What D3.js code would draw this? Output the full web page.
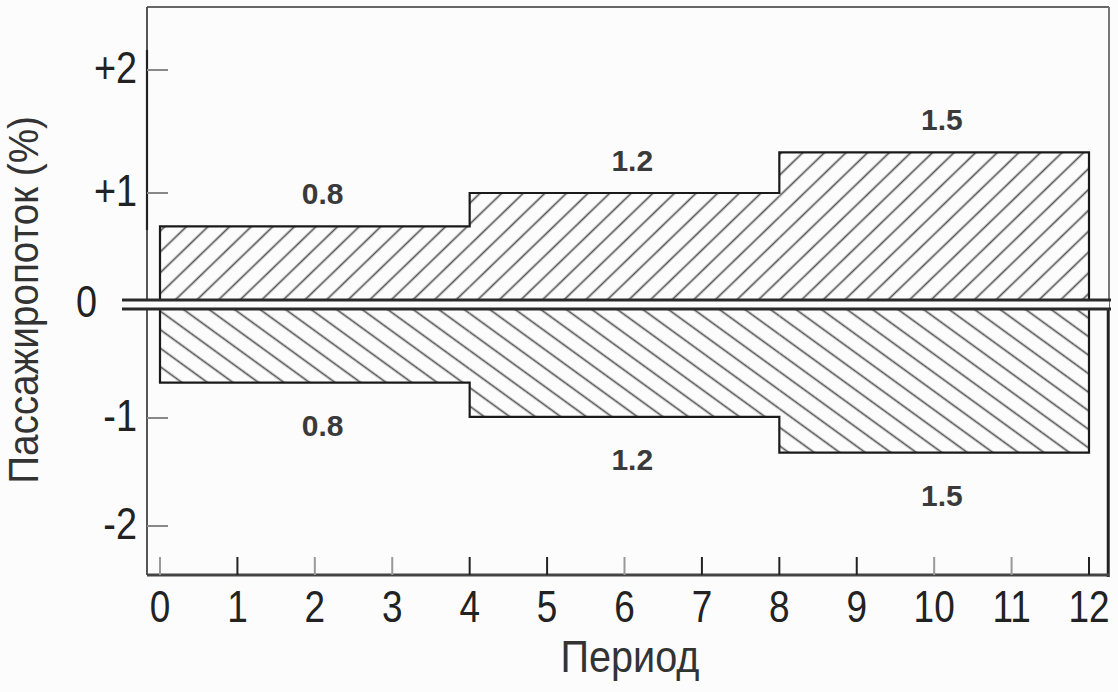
<!DOCTYPE html>
<html>
<head>
<meta charset="utf-8">
<script src="https://cdn.jsdelivr.net/npm/d3@7"></script>
<style>
  html, body { margin: 0; padding: 0; background: #fcfcfc; }
  svg { display: block; }
</style>
</head>
<body>
<svg id="chart" width="1118" height="692"></svg>
<script>
// ---- data ----
const periodTicks = [0, 1, 2, 3, 4, 5, 6, 7, 8, 9, 10, 11, 12];
const segmentStarts = [0, 4, 8];
const segmentEnds = [4, 8, 12];
const upperValues = [0.7, 1.0, 1.33];
const lowerValues = [-0.69, -0.99, -1.32];
const segmentLabels = ["0.8", "1.2", "1.5"];
const yTickValues = [2, 1, 0, -1, -2];
const yTickLabels = ["+2", "+1", "0", "-1", "-2"];
const xTitle = "Период";
const yTitle = "Пассажиропоток (%)";

// ---- setup ----
const svg = d3.select("#chart");
const FONT = "'Liberation Sans', Arial, sans-serif";
const x = d3.scaleLinear().domain([0, 12]).range([160, 1089]);
const y = d3.scaleLinear().domain([-2, -1, 0, 1, 2]).range([526, 418, 304, 193, 70]);

const frame = { left: 147, right: 1109, top: 7, bottom: 575 };

// hatch patterns
const defs = svg.append("defs");
function hatch(id, angle) {
  const p = defs.append("pattern")
    .attr("id", id)
    .attr("patternUnits", "userSpaceOnUse")
    .attr("width", 30).attr("height", 15)
    .attr("patternTransform", `rotate(${angle})`);
  p.append("line").attr("x1", 0).attr("x2", 30).attr("y1", 7.5).attr("y2", 7.5)
    .attr("stroke", "#555").attr("stroke-width", 1.7);
}
hatch("hUp", -44);
hatch("hDown", 36);

// frame
svg.append("line").attr("x1", frame.left).attr("x2", frame.right)
  .attr("y1", frame.top).attr("y2", frame.top)
  .attr("stroke", "#666").attr("stroke-width", 2);
svg.append("line").attr("x1", frame.right).attr("x2", frame.right)
  .attr("y1", frame.top).attr("y2", frame.bottom + 2)
  .attr("stroke", "#777").attr("stroke-width", 2);
svg.append("line").attr("x1", frame.right - 1).attr("x2", frame.right - 1)
  .attr("y1", y(0)).attr("y2", frame.bottom + 2)
  .attr("stroke", "#222").attr("stroke-width", 2.5);
svg.append("line").attr("x1", frame.left).attr("x2", frame.left)
  .attr("y1", frame.top).attr("y2", frame.bottom)
  .attr("stroke", "#555").attr("stroke-width", 2);
svg.append("line").attr("x1", frame.left).attr("x2", frame.left)
  .attr("y1", 50).attr("y2", 230)
  .attr("stroke", "#222").attr("stroke-width", 2.2);

// bars
const segs = segmentStarts.map((s, i) => ({ s, e: segmentEnds[i], up: upperValues[i], down: lowerValues[i], label: segmentLabels[i] }));
const upBase = y(0) - 4, downBase = y(0) + 5;

svg.selectAll("rect.up").data(segs).join("rect").attr("class", "up")
  .attr("x", d => x(d.s)).attr("width", d => x(d.e) - x(d.s))
  .attr("y", d => y(d.up)).attr("height", d => upBase - y(d.up))
  .attr("fill", "url(#hUp)");
svg.selectAll("rect.down").data(segs).join("rect").attr("class", "down")
  .attr("x", d => x(d.s)).attr("width", d => x(d.e) - x(d.s))
  .attr("y", downBase).attr("height", d => y(d.down) - downBase)
  .attr("fill", "url(#hDown)");

// outlines (stepped)
function outline(key, base) {
  const pts = [[x(segs[0].s), base]];
  segs.forEach(d => { pts.push([x(d.s), y(d[key])]); pts.push([x(d.e), y(d[key])]); });
  pts.push([x(segs[segs.length - 1].e), base]);
  return d3.line()(pts);
}
svg.append("path").attr("d", outline("up", upBase)).attr("fill", "none")
  .attr("stroke", "#1a1a1a").attr("stroke-width", 2.2);
svg.append("path").attr("d", outline("down", downBase)).attr("fill", "none")
  .attr("stroke", "#1a1a1a").attr("stroke-width", 2.2);

// double zero line
svg.append("rect").attr("x", 122).attr("width", frame.right - 122)
  .attr("y", upBase).attr("height", downBase - upBase).attr("fill", "#fcfcfc");
[upBase, downBase].forEach(yy => {
  svg.append("line").attr("x1", 122).attr("x2", frame.right + 2)
    .attr("y1", yy).attr("y2", yy)
    .attr("stroke", "#2a2a2a").attr("stroke-width", 3);
});

// segment labels
svg.selectAll("text.lu").data(segs).join("text").attr("class", "lu")
  .attr("x", d => x((d.s + d.e) / 2 + 0.1)).attr("y", d => y(d.up) - 22)
  .attr("text-anchor", "middle").attr("font-family", FONT)
  .attr("font-size", 30).attr("font-weight", "bold").attr("fill", "#3a3a3a")
  .text(d => d.label);
svg.selectAll("text.ld").data(segs).join("text").attr("class", "ld")
  .attr("x", d => x((d.s + d.e) / 2 + 0.1)).attr("y", d => y(d.down) + 53)
  .attr("text-anchor", "middle").attr("font-family", FONT)
  .attr("font-size", 30).attr("font-weight", "bold").attr("fill", "#3a3a3a")
  .text(d => d.label);

// x axis
svg.append("line").attr("x1", frame.left).attr("x2", frame.right)
  .attr("y1", frame.bottom).attr("y2", frame.bottom)
  .attr("stroke", "#444").attr("stroke-width", 3);
svg.selectAll("line.xt").data(periodTicks).join("line").attr("class", "xt")
  .attr("x1", d => x(d)).attr("x2", d => x(d))
  .attr("y1", frame.bottom - 18).attr("y2", frame.bottom)
  .attr("stroke", (d, i) => [1, 4, 5, 7, 8, 9, 12].includes(d) ? "#222" : "#999")
  .attr("stroke-width", 2);
svg.selectAll("text.xl").data(periodTicks).join("text").attr("class", "xl")
  .attr("transform", d => `translate(${x(d)},622) scale(0.84,1)`)
  .attr("text-anchor", "middle").attr("font-family", FONT)
  .attr("font-size", 44).attr("fill", "#222")
  .text(d => d);
svg.append("text")
  .attr("transform", `translate(630,672) scale(0.9,1)`)
  .attr("text-anchor", "middle").attr("font-family", FONT)
  .attr("font-size", 44).attr("fill", "#333").text(xTitle);

// y axis
const yTicks = yTickValues.map((v, i) => ({ v, label: yTickLabels[i] }));
svg.selectAll("line.yt").data(yTicks.filter(d => d.v !== 0)).join("line").attr("class", "yt")
  .attr("x1", frame.left).attr("x2", frame.left + 21)
  .attr("y1", d => y(d.v)).attr("y2", d => y(d.v))
  .attr("stroke", "#888").attr("stroke-width", 2);
svg.selectAll("text.yl").data(yTicks).join("text").attr("class", "yl")
  .attr("transform", d => `translate(${d.v === 0 ? 97 : 137},${y(d.v) + 13}) scale(0.86,1)`)
  .attr("text-anchor", "end").attr("font-family", FONT)
  .attr("font-size", 44).attr("fill", "#222")
  .text(d => d.label);
svg.append("text")
  .attr("transform", `translate(38,300) rotate(-90) scale(0.92,1)`)
  .attr("text-anchor", "middle").attr("font-family", FONT)
  .attr("font-size", 42).attr("fill", "#333").text(yTitle);
</script>
</body>
</html>
